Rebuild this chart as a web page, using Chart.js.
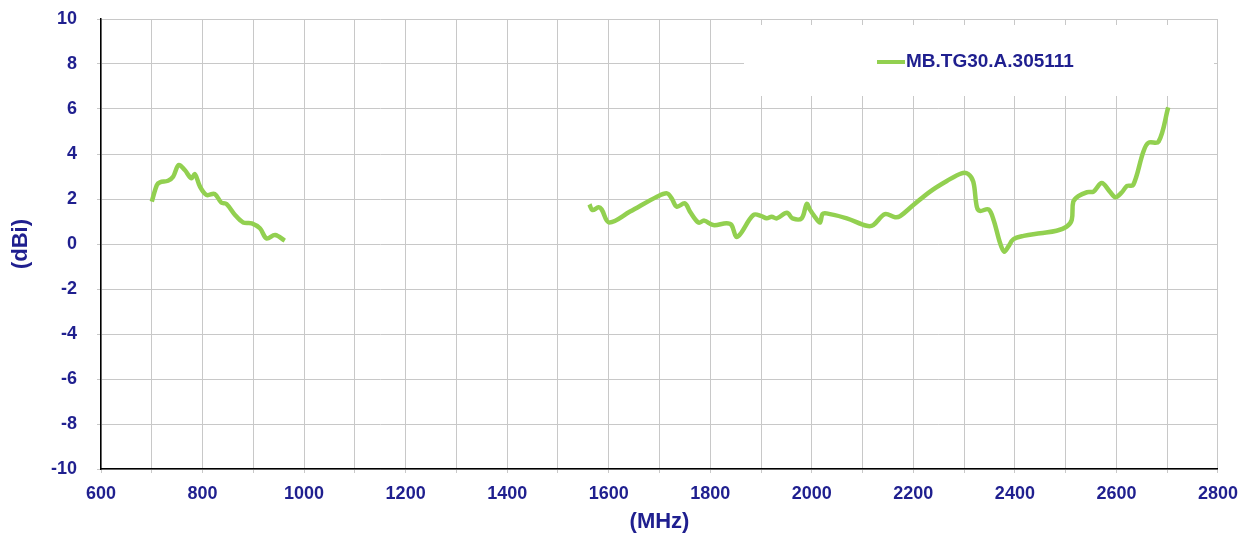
<!DOCTYPE html>
<html>
<head>
<meta charset="utf-8">
<script src="https://cdn.jsdelivr.net/npm/chart.js@4"></script>
<style>
  html, body { margin: 0; padding: 0; background: #fff; }
  #wrap { width: 1248px; height: 537px; }
</style>
</head>
<body>
<div id="wrap"><canvas id="gain-chart" width="1248" height="537"></canvas></div>
<script>
// frequency (MHz) and gain (dBi); null marks the gap between the two bands
const freqMHz = [
    700, 710, 716, 732, 742, 753, 765, 778, 785, 795, 808, 824, 837, 847, 864, 880, 897, 913, 926, 943, 962,
    1260,
    1562, 1568, 1580, 1586, 1601, 1642, 1695, 1715, 1724, 1734, 1750, 1760, 1777, 1788, 1806, 1832, 1842,
    1851, 1859, 1885, 1901, 1911, 1921, 1931, 1951, 1962, 1980, 1990, 1996, 2006, 2016, 2021, 2029, 2069,
    2108, 2121, 2144, 2164, 2174, 2200, 2233, 2266, 2295, 2308, 2318, 2325, 2331, 2348, 2358, 2371, 2379,
    2387, 2397, 2417, 2450, 2482, 2502, 2512, 2515, 2525, 2542, 2555, 2571, 2587, 2598, 2610, 2621, 2633,
    2653, 2663, 2683, 2702
];
const gainDbi = [
    1.88, 2.62, 2.74, 2.81, 2.99, 3.51, 3.29, 2.92, 3.10, 2.55, 2.18, 2.22, 1.84, 1.78, 1.29, 0.96, 0.92, 0.70, 0.25, 0.40, 0.15,
    null,
    1.76, 1.51, 1.63, 1.54, 0.96, 1.44, 2.10, 2.25, 2.03, 1.66, 1.81, 1.44, 0.95, 1.04, 0.84, 0.92, 0.84,
    0.32, 0.44, 1.29, 1.24, 1.14, 1.21, 1.14, 1.39, 1.14, 1.14, 1.78, 1.54, 1.21, 0.95, 1.33, 1.36, 1.14,
    0.81, 0.84, 1.33, 1.19, 1.24, 1.73, 2.33, 2.80, 3.14, 3.11, 2.77, 1.66, 1.47, 1.54, 1.07, 0.03, -0.34,
    -0.12, 0.21, 0.36, 0.48, 0.59, 0.77, 1.07, 1.88, 2.13, 2.30, 2.33, 2.71, 2.33, 2.08, 2.28, 2.58, 2.62,
    4.10, 4.50, 4.55, 6.07
];
const seriesName = "MB.TG30.A.305111";

const navy = "#1f1f8f";
const green = "#92d050";
const gridGrey = "#c8c8c8";

const points = freqMHz.map((f, i) => ({ x: f, y: gainDbi[i] }));

// white box behind the legend (covers the grid like the original) + legend entry
const legendBox = {
    id: "legendBox",
    beforeDatasetsDraw(chart) {
        const ctx = chart.ctx;
        ctx.save();
        ctx.fillStyle = "#fff";
        ctx.fillRect(744, 25, 470, 71);
        ctx.restore();
    },
    afterDatasetsDraw(chart) {
        const ctx = chart.ctx;
        const ds = chart.data.datasets[0];
        ctx.save();
        ctx.strokeStyle = ds.borderColor;
        ctx.lineWidth = 4;
        ctx.beginPath();
        ctx.moveTo(877, 62);
        ctx.lineTo(905, 62);
        ctx.stroke();
        ctx.fillStyle = navy;
        ctx.font = "bold 19px 'Liberation Sans', Arial, sans-serif";
        ctx.textBaseline = "middle";
        ctx.fillText(ds.label, 906, 62);
        ctx.restore();
    }
};

const data = {
    datasets: [
        {
            label: seriesName,
            data: points,
            borderColor: green,
            backgroundColor: green,
            borderWidth: 4.5,
            pointRadius: 0,
            tension: 0.35,
            spanGaps: false,
        },
    ],
};

const tickFont = { family: "'Liberation Sans', Arial, sans-serif", size: 18, weight: "bold" };
const titleFont = { family: "'Liberation Sans', Arial, sans-serif", size: 22, weight: "bold" };

const config = {
    type: "line",
    data: data,
    plugins: [legendBox],
    options: {
        responsive: false,
        animation: false,
        layout: { padding: { left: 0, right: 30, top: 19, bottom: 0 } },
        plugins: {
            legend: { display: false },
            tooltip: { enabled: false },
        },
        scales: {
            x: {
                type: "linear",
                min: 600,
                max: 2800,
                ticks: {
                    stepSize: 100,
                    color: navy,
                    font: tickFont,
                    padding: 10,
                    maxRotation: 0,
                    autoSkip: false,
                    callback: (v) => (v % 200 === 0 ? v : ""),
                },
                grid: { color: gridGrey, lineWidth: 1, tickLength: 4 },
                border: { color: "#000", width: 1.5 },
                title: {
                    display: true,
                    text: "(MHz)",
                    color: navy,
                    font: titleFont,
                    padding: { top: 0, bottom: 2 },
                },
                afterFit: (s) => { s.height = 68; },
            },
            y: {
                min: -10,
                max: 10,
                ticks: {
                    stepSize: 2,
                    color: navy,
                    font: tickFont,
                    padding: 20,
                },
                grid: { color: gridGrey, lineWidth: 1, tickLength: 4 },
                border: { color: "#000", width: 1.5 },
                title: {
                    display: true,
                    text: "(dBi)",
                    color: navy,
                    font: titleFont,
                    padding: { top: 8, bottom: 0 },
                },
                // tick padding would otherwise push the plot top down
                afterFit: (s) => {
                    s.width = 101;
                    s.paddingTop = 0;
                    s.paddingBottom = 0;
                },
            },
        },
    },
};

const myChart = new Chart(document.getElementById("gain-chart"), config);
</script>
</body>
</html>
